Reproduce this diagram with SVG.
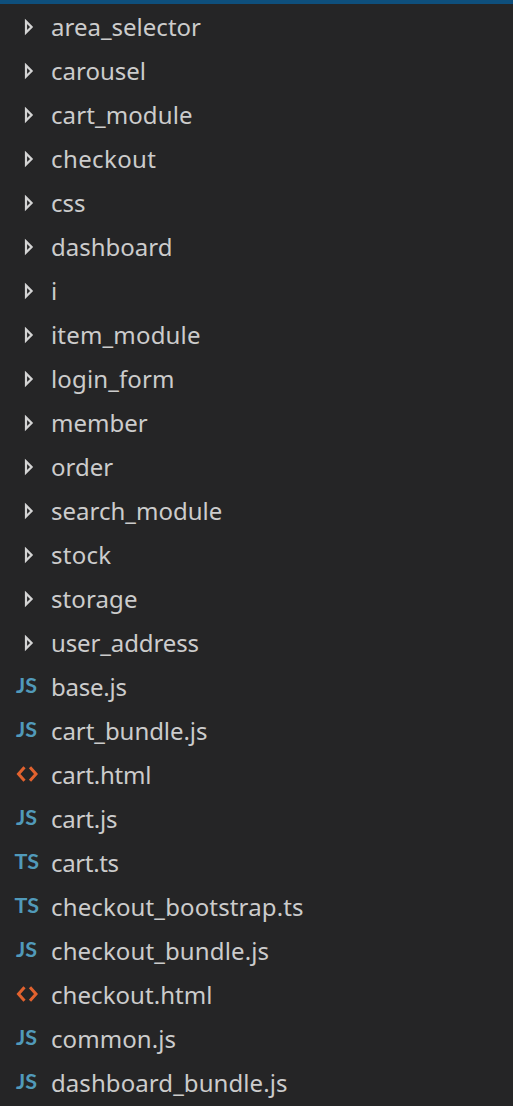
<svg xmlns="http://www.w3.org/2000/svg" width="513" height="1106" viewBox="0 0 513 1106">
<style>
.l{font-family:"Noto Sans","Open Sans","Liberation Sans",sans-serif;font-size:24px;fill:#cccccc}
.i{font-family:"Lato","Liberation Sans",sans-serif;font-size:21.5px;font-weight:700;fill:#519aba}
.c{fill:none;stroke:#d4d4d4;stroke-width:2.2}
.h{fill:none;stroke:#e2622e;stroke-width:3}
</style>
<defs>
<path id="chev" class="c" d="M26 -5.6L31.6 0L26 5.6Z"/>
<path id="html" class="h" d="M24.5 -6.8L18.5 0L24.5 6.8M30 -6.8L36 0L30 6.8"/>
</defs>
<rect width="513" height="1106" fill="#252526"/>
<rect width="513" height="4" fill="#0e4f7c"/>
<g id="n0"><use href="#chev" y="27"/><text class="l" x="51" y="36" textLength="150">area_selector</text></g>
<g id="n1"><use href="#chev" y="71"/><text class="l" x="51" y="80" textLength="95">carousel</text></g>
<g id="n2"><use href="#chev" y="115"/><text class="l" x="51" y="124" textLength="141.5">cart_module</text></g>
<g id="n3"><use href="#chev" y="159"/><text class="l" x="51" y="168" textLength="105">checkout</text></g>
<g id="n4"><use href="#chev" y="203"/><text class="l" x="51" y="212">css</text></g>
<g id="n5"><use href="#chev" y="247"/><text class="l" x="51" y="256">dashboard</text></g>
<g id="n6"><use href="#chev" y="291"/><text class="l" x="51" y="300">i</text></g>
<g id="n7"><use href="#chev" y="335"/><text class="l" x="51" y="344" textLength="149.5">item_module</text></g>
<g id="n8"><use href="#chev" y="379"/><text class="l" x="51" y="388" textLength="123.5">login_form</text></g>
<g id="n9"><use href="#chev" y="423"/><text class="l" x="51" y="432">member</text></g>
<g id="n10"><use href="#chev" y="467"/><text class="l" x="51" y="476">order</text></g>
<g id="n11"><use href="#chev" y="511"/><text class="l" x="51" y="520">search_module</text></g>
<g id="n12"><use href="#chev" y="555"/><text class="l" x="51" y="564" textLength="60">stock</text></g>
<g id="n13"><use href="#chev" y="599"/><text class="l" x="51" y="608" textLength="86.5">storage</text></g>
<g id="n14"><use href="#chev" y="643"/><text class="l" x="51" y="652" textLength="148">user_address</text></g>
<g id="n15"><text class="i" x="16" y="693">JS</text><text class="l" x="51" y="696" textLength="76">base.js</text></g>
<g id="n16"><text class="i" x="16" y="737">JS</text><text class="l" x="51" y="740" textLength="156.5">cart_bundle.js</text></g>
<g id="n17"><use href="#html" y="774"/><text class="l" x="51" y="784" textLength="100.5">cart.html</text></g>
<g id="n18"><text class="i" x="16" y="825">JS</text><text class="l" x="51" y="828" textLength="66.5">cart.js</text></g>
<g id="n19"><text class="i" x="14.5" y="869">TS</text><text class="l" x="51" y="872" textLength="68">cart.ts</text></g>
<g id="n20"><text class="i" x="14.5" y="913">TS</text><text class="l" x="51" y="916" textLength="252.5">checkout_bootstrap.ts</text></g>
<g id="n21"><text class="i" x="16" y="957">JS</text><text class="l" x="51" y="960" textLength="218">checkout_bundle.js</text></g>
<g id="n22"><use href="#html" y="994"/><text class="l" x="51" y="1004" textLength="161.5">checkout.html</text></g>
<g id="n23"><text class="i" x="16" y="1045">JS</text><text class="l" x="51" y="1048" textLength="125">common.js</text></g>
<g id="n24"><text class="i" x="16" y="1089">JS</text><text class="l" x="51" y="1092" textLength="236.5">dashboard_bundle.js</text></g>
<g id="connectors"/>
</svg>
